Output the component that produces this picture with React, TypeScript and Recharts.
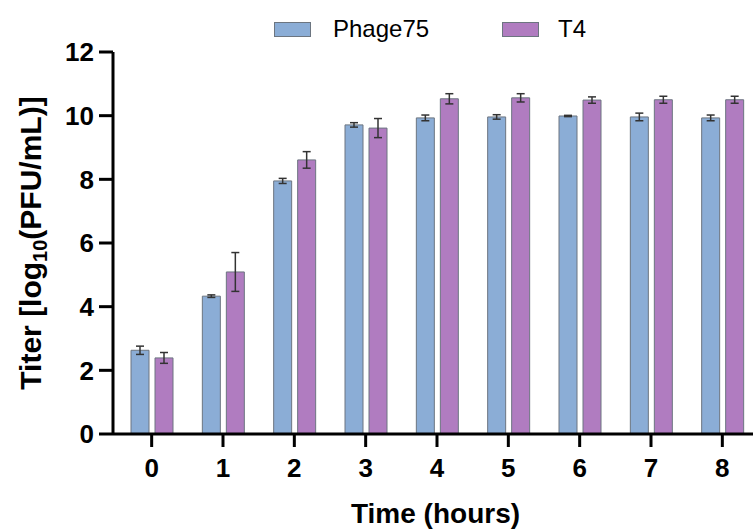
import React from "react";
import { BarChart, Bar, XAxis, YAxis, ErrorBar, Label } from "recharts";

const hours = ["0", "1", "2", "3", "4", "5", "6", "7", "8"];
const phage75 = [2.63, 4.33, 7.95, 9.71, 9.93, 9.96, 9.99, 9.96, 9.93];
const phage75Err = [0.13, 0.04, 0.08, 0.07, 0.09, 0.07, 0.02, 0.12, 0.09];
const t4 = [2.39, 5.09, 8.61, 9.61, 10.53, 10.56, 10.49, 10.5, 10.5];
const t4Err = [0.17, 0.61, 0.26, 0.3, 0.16, 0.13, 0.1, 0.11, 0.11];
const yTicks = [0, 2, 4, 6, 8, 10, 12];

const data = hours.map((h, i) => ({
  hour: h,
  phage75: phage75[i],
  phage75Err: phage75Err[i],
  t4: t4[i],
  t4Err: t4Err[i],
}));

const FONT = "'Liberation Sans', Arial, sans-serif";
const BLUE = "#8badd6";
const PURPLE = "#b07cc0";

// rotated y title with a subscript 10
function YTitle(props: any) {
  const { viewBox } = props;
  const cy = viewBox.y + viewBox.height / 2;
  const x = 41;
  return (
    <text
      x={x}
      y={cy}
      transform={`rotate(-90 ${x} ${cy})`}
      textAnchor="middle"
      fontFamily={FONT}
      fontWeight="bold"
      fontSize={30}
      fill="#000"
    >
      <tspan>Titer [log</tspan>
      <tspan fontSize={20} dy={6}>10</tspan>
      <tspan dy={-6}>(PFU/mL)]</tspan>
    </text>
  );
}

export default function App() {
  return (
    <div style={{ position: "absolute", left: 0, top: 0, width: 753, height: 529, overflow: "hidden", background: "#fff" }}>
      <div style={{ position: "absolute", left: 274, top: 15, display: "flex", alignItems: "center", fontFamily: FONT, fontSize: 24, color: "#000" }}>
        <span style={{ width: 35, height: 13, background: BLUE, border: "1px solid #6c7580", display: "inline-block" }} />
        <span style={{ marginLeft: 22 }}>Phage75</span>
      </div>
      <div style={{ position: "absolute", left: 502, top: 15, display: "flex", alignItems: "center", fontFamily: FONT, fontSize: 24, color: "#000" }}>
        <span style={{ width: 35, height: 13, background: PURPLE, border: "1px solid #6c7580", display: "inline-block" }} />
        <span style={{ marginLeft: 19 }}>T4</span>
      </div>
      <BarChart
        width={758}
        height={529}
        data={data}
        margin={{ top: 52, right: 0, left: 53, bottom: 0 }}
        barSize={18}
        barGap={6}
      >
        <XAxis
          dataKey="hour"
          height={95}
          padding={{ left: 3, right: 0 }}
          axisLine={{ stroke: "#000", strokeWidth: 3 }}
          tickLine={{ stroke: "#000", strokeWidth: 3 }}
          tickSize={13}
          tickMargin={12}
          tick={{ fill: "#000", fontSize: 26, fontWeight: "bold", fontFamily: FONT }}
          interval={0}
        >
          <Label
            value="Time (hours)"
            position="insideBottom"
            offset={6}
            style={{ fill: "#000", fontSize: 28, fontWeight: "bold", fontFamily: FONT }}
          />
        </XAxis>
        <YAxis
          width={60}
          domain={[0, 12]}
          ticks={yTicks}
          interval={0}
          axisLine={{ stroke: "#000", strokeWidth: 3 }}
          tickLine={{ stroke: "#000", strokeWidth: 3 }}
          tickSize={14}
          tickMargin={5}
          tick={{ fill: "#000", fontSize: 26, fontWeight: "bold", fontFamily: FONT }}
        >
          <Label content={<YTitle />} />
        </YAxis>
        <Bar dataKey="phage75" fill={BLUE} stroke="#6c7580" strokeWidth={1} isAnimationActive={false}>
          <ErrorBar dataKey="phage75Err" width={4} stroke="#333" strokeWidth={1.5} />
        </Bar>
        <Bar dataKey="t4" fill={PURPLE} stroke="#6c7580" strokeWidth={1} isAnimationActive={false}>
          <ErrorBar dataKey="t4Err" width={4} stroke="#333" strokeWidth={1.5} />
        </Bar>
      </BarChart>
    </div>
  );
}
